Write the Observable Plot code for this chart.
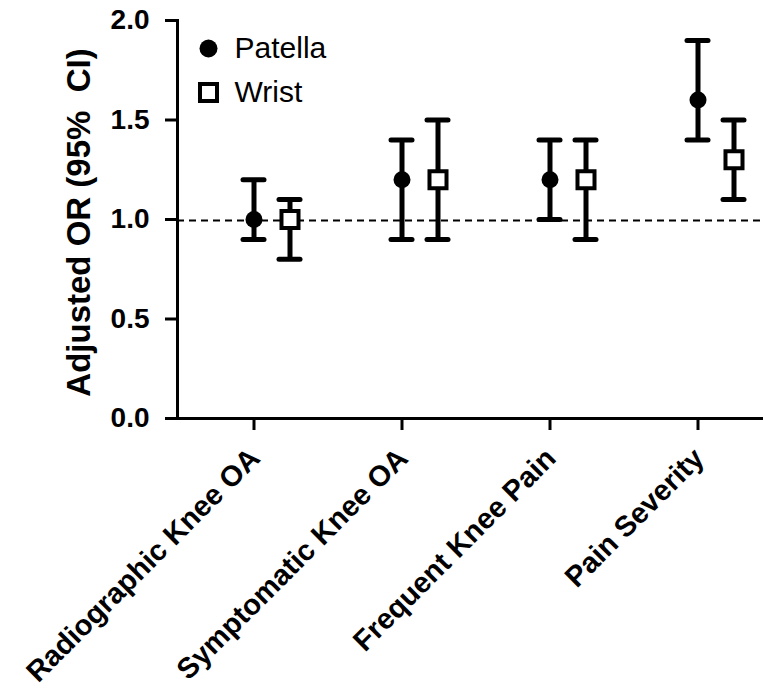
<!DOCTYPE html>
<html>
<head>
<meta charset="utf-8">
<script src="https://cdn.jsdelivr.net/npm/d3@7"></script>
<script src="https://cdn.jsdelivr.net/npm/@observablehq/plot@0.6"></script>
<style>
  html, body { margin: 0; padding: 0; background: #fff; }
  svg { font-family: "Liberation Sans", Arial, sans-serif; }
</style>
</head>
<body>
<div id="chart"></div>
<script>
const categories = ["Radiographic Knee OA", "Symptomatic Knee OA", "Frequent Knee Pain", "Pain Severity"];
const seriesNames = ["Patella", "Wrist"];
const patellaOR   = [1.0, 1.2, 1.2, 1.6];
const patellaLow  = [0.9, 0.9, 1.0, 1.4];
const patellaHigh = [1.2, 1.4, 1.4, 1.9];
const wristOR     = [1.0, 1.2, 1.2, 1.3];
const wristLow    = [0.8, 0.9, 0.9, 1.1];
const wristHigh   = [1.1, 1.5, 1.4, 1.5];
const yTicks = [0, 0.5, 1.0, 1.5, 2.0];
const yLabel = "Adjusted OR (95%  CI)";
const refLine = [1.0];

const patella = categories.map((c, i) => ({category: c, or: patellaOR[i], lo: patellaLow[i], hi: patellaHigh[i]}));
const wrist = categories.map((c, i) => ({category: c, or: wristOR[i], lo: wristLow[i], hi: wristHigh[i]}));

const WRIST_DX = 36;
const capOpts = {stroke: "black", strokeWidth: 5, strokeLinecap: "round"};

const chart = Plot.plot({
  width: 763,
  height: 694,
  marginLeft: 177,
  marginRight: 0,
  marginTop: 20,
  marginBottom: 276,
  x: {type: "band", domain: categories, range: [241.5, 708.5], paddingInner: 0.859, paddingOuter: 0},
  y: {domain: [0, 2], ticks: yTicks},
  marks: [
    Plot.ruleY(refLine, {stroke: "black", strokeWidth: 2, strokeDasharray: "7,5", dy: 1}),
    // axes lines
    Plot.frame({anchor: "left", stroke: "black", strokeWidth: 3}),
    Plot.ruleY([0], {stroke: "black", strokeWidth: 3, insetLeft: -12}),
    Plot.axisY({ticks: yTicks, tickFormat: d => d.toFixed(1), tickSize: 12, tickPadding: 16, strokeWidth: 3, fontSize: 28, fontWeight: "bold", fill: "black", label: null}),
    Plot.axisX({tickSize: 12, strokeWidth: 3, tickFormat: () => "", label: null}),
    Plot.text(categories, {x: d => d, frameAnchor: "bottom", text: d => d, rotate: -45, textAnchor: "end", lineAnchor: "middle", dy: 35, dx: 1, fontSize: 29, fontWeight: "bold", fill: "black"}),
    Plot.text([yLabel], {frameAnchor: "left", text: d => d, rotate: -90, textAnchor: "middle", lineAnchor: "middle", dx: -98, dy: 3, fontSize: 33, fontWeight: "bold", fill: "black"}),
    // Patella error bars
    Plot.ruleX(patella, {x: "category", y1: "lo", y2: "hi", stroke: "black", strokeWidth: 5}),
    Plot.tickY(patella, {x: "category", y: "lo", ...capOpts}),
    Plot.tickY(patella, {x: "category", y: "hi", ...capOpts}),
    Plot.dot(patella, {x: "category", y: "or", r: 8.5, fill: "black", stroke: "none"}),
    // Wrist error bars
    Plot.ruleX(wrist, {x: "category", y1: "lo", y2: "hi", stroke: "black", strokeWidth: 5, dx: WRIST_DX}),
    Plot.tickY(wrist, {x: "category", y: "lo", ...capOpts, dx: WRIST_DX}),
    Plot.tickY(wrist, {x: "category", y: "hi", ...capOpts, dx: WRIST_DX}),
    Plot.dot(wrist, {x: "category", y: "or", r: 9.6, symbol: "square", fill: "white", stroke: "black", strokeWidth: 4, dx: WRIST_DX}),
    // legend
    Plot.dot([seriesNames[0]], {frameAnchor: "top-left", dx: 31, dy: 28, r: 9, fill: "black", stroke: "none"}),
    Plot.dot([seriesNames[1]], {frameAnchor: "top-left", dx: 31, dy: 72, r: 9.6, symbol: "square", fill: "white", stroke: "black", strokeWidth: 4}),
    Plot.text([seriesNames[0]], {frameAnchor: "top-left", text: d => d, dx: 57, dy: 28, textAnchor: "start", lineAnchor: "middle", fontSize: 30, fill: "black"}),
    Plot.text([seriesNames[1]], {frameAnchor: "top-left", text: d => d, dx: 57, dy: 72, textAnchor: "start", lineAnchor: "middle", fontSize: 30, fill: "black"})
  ]
});
document.getElementById("chart").appendChild(chart);
</script>
</body>
</html>
